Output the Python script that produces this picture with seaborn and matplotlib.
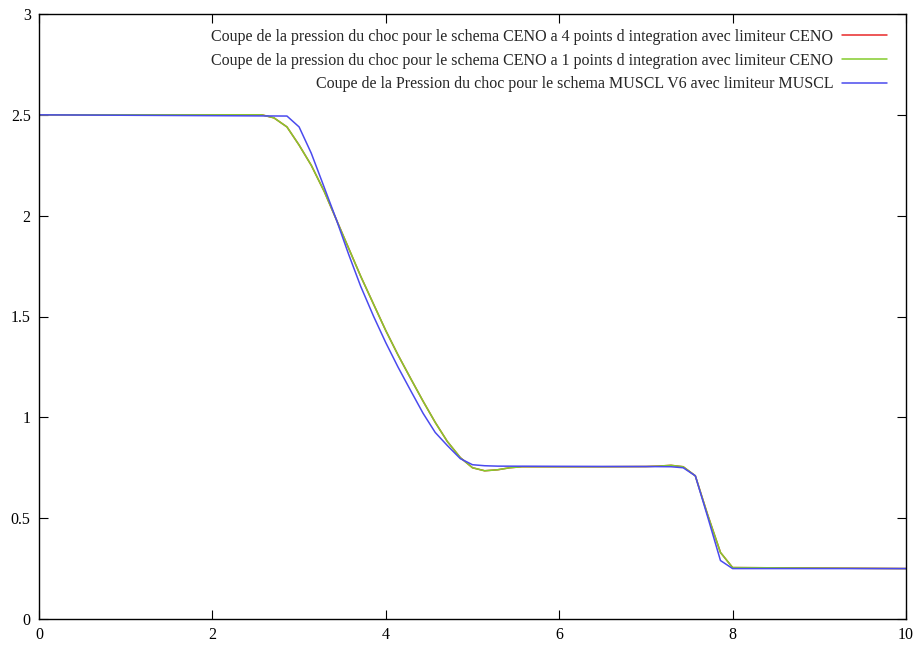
import numpy as np
import pandas as pd
import matplotlib
matplotlib.use("Agg")
import matplotlib.pyplot as plt
import seaborn as sns

# ---- data ----
x_ceno = [0.0, 2.57, 2.71, 2.86, 3.00, 3.14, 3.29, 3.43, 3.57, 3.71, 3.86, 4.00,
          4.14, 4.29, 4.43, 4.57, 4.71, 4.86, 5.00, 5.14, 5.29, 5.43, 5.57,
          6.00, 6.50, 7.00, 7.14, 7.29, 7.43, 7.57, 7.71, 7.86, 8.00, 10.0]
p_ceno4 = [2.5, 2.5, 2.485, 2.44, 2.35, 2.25, 2.12, 1.98, 1.84, 1.70, 1.56, 1.43,
           1.31, 1.19, 1.08, 0.975, 0.88, 0.80, 0.75, 0.735, 0.74, 0.75, 0.755,
           0.755, 0.755, 0.756, 0.758, 0.762, 0.755, 0.71, 0.52, 0.33, 0.255, 0.25]
p_ceno1 = [2.5, 2.5, 2.485, 2.44, 2.35, 2.25, 2.12, 1.98, 1.84, 1.70, 1.56, 1.43,
           1.31, 1.19, 1.08, 0.975, 0.88, 0.80, 0.75, 0.735, 0.74, 0.75, 0.755,
           0.755, 0.755, 0.756, 0.758, 0.762, 0.755, 0.71, 0.52, 0.33, 0.255, 0.25]

x_muscl = [0.0, 2.86, 3.00, 3.14, 3.29, 3.43, 3.57, 3.71, 3.86, 4.00, 4.14, 4.29,
           4.43, 4.57, 4.71, 4.86, 5.00, 5.14, 5.29, 6.00, 7.00, 7.29, 7.43,
           7.57, 7.71, 7.86, 8.00, 10.0]
p_muscl = [2.5, 2.494, 2.44, 2.31, 2.14, 1.98, 1.81, 1.65, 1.50, 1.37, 1.25, 1.13,
           1.02, 0.925, 0.86, 0.795, 0.765, 0.76, 0.758, 0.757, 0.756, 0.755, 0.75,
           0.71, 0.51, 0.29, 0.25, 0.25]

labels = [
    "Coupe de la pression du choc pour le schema CENO a 4 points d integration avec limiteur CENO",
    "Coupe de la pression du choc pour le schema CENO a 1 points d integration avec limiteur CENO",
    "Coupe de la Pression du choc pour le schema MUSCL V6 avec limiteur MUSCL",
]
colors = ["#e8282a", "#84cc2c", "#4a4aee"]

x_ticks = [0, 2, 4, 6, 8, 10]
y_ticks = [0, 0.5, 1, 1.5, 2, 2.5, 3]
y_tick_labels = ["0", "0.5", "1", "1.5", "2", "2.5", "3"]

sns.set_style("ticks")
plt.rcParams["font.family"] = ["Liberation Serif", "DejaVu Serif"]

fig = plt.figure(figsize=(9.16, 6.53), dpi=100)
ax = fig.add_axes([39 / 916, 34 / 653, 867 / 916, 605 / 653])

series = [(x_ceno, p_ceno4), (x_ceno, p_ceno1), (x_muscl, p_muscl)]
for (xs, ys), lab, col in zip(series, labels, colors):
    df = pd.DataFrame({"x": xs, "p": ys})
    sns.lineplot(data=df, x="x", y="p", ax=ax, color=col, linewidth=1.1,
                 label=lab, sort=False, estimator=None)

ax.set_xlim(0, 10)
ax.set_ylim(0, 3)
ax.set_xticks(x_ticks)
ax.set_xticklabels([str(t) for t in x_ticks])
ax.set_yticks(y_ticks)
ax.set_yticklabels(y_tick_labels)
ax.set_xlabel("")
ax.set_ylabel("")
for s in ax.spines.values():
    s.set_visible(True)
    s.set_linewidth(1.0)
    s.set_color("black")
ax.tick_params(direction="in", top=True, right=True, length=6.5, width=0.8,
               labelsize=11.5, pad=6, colors="black")

ax.legend(loc="upper right", bbox_to_anchor=(0.978, 0.976), frameon=False,
          markerfirst=False, fontsize=11.5, handlelength=2.8, handletextpad=0.55,
          borderaxespad=0, borderpad=0, labelspacing=0.5)

fig.savefig("out.png", dpi=100)
